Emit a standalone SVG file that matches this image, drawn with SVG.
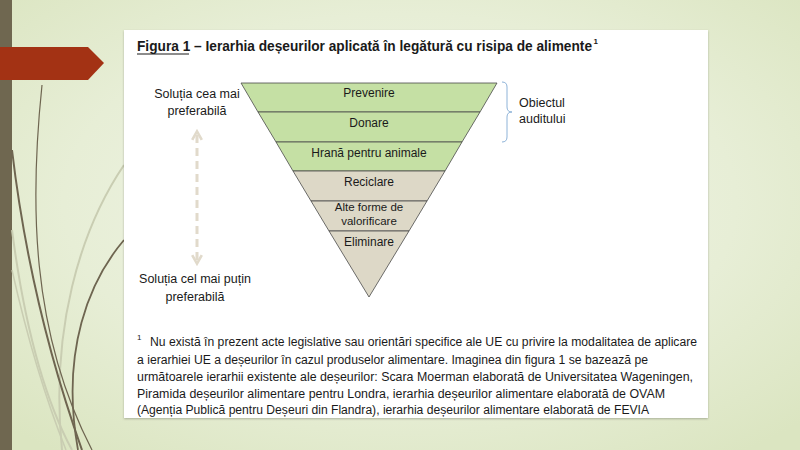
<svg xmlns="http://www.w3.org/2000/svg" width="800" height="450" viewBox="0 0 800 450">
<defs>
<radialGradient id="bg" cx="0.5" cy="0.45" r="0.7">
<stop offset="0" stop-color="#f2f5ea"/>
<stop offset="0.6" stop-color="#e7eed6"/>
<stop offset="1" stop-color="#dbe5c1"/>
</radialGradient>
<marker id="ah" viewBox="0 0 10 10" refX="5" refY="5" markerWidth="4" markerHeight="4" orient="auto-start-reverse" markerUnits="strokeWidth">
<path d="M1,1 L8,5 L1,9" fill="none" stroke="#e1dacb" stroke-width="2.2"/>
</marker>
<filter id="sh" x="-5%" y="-5%" width="110%" height="110%">
<feDropShadow dx="0" dy="1" stdDeviation="1" flood-color="#000" flood-opacity="0.25"/>
</filter>
</defs>
<style>
.t{font-family:"Liberation Sans",Arial,sans-serif;fill:#1a1a1a}
.lbl{font-size:12px;text-anchor:middle}
.side{font-size:12.5px;text-anchor:middle}
.fn{font-size:12.5px}
.band{stroke:#4a4a4a;stroke-width:0.8}
.g{fill:#c5e0a4}
.b{fill:#ddd8c7}
.curve{fill:none;stroke:#6e6550}
.lcurve{fill:none;stroke:#c9cdb2}
</style>
<rect width="800" height="450" fill="url(#bg)"/>
<g id="decoration">
<rect x="0" y="0" width="12" height="450" fill="#6f6750"/>
<path class="lcurve" stroke-width="2" d="M124,165 C80,230 50,330 62,450"/>
<path class="lcurve" stroke-width="2" d="M12,230 C25,330 45,400 72,450"/>
<path class="lcurve" stroke-width="1.5" d="M12,270 C30,350 50,410 66,450"/>
<path class="curve" stroke-width="2" d="M12,150 C25,260 50,360 82,450"/>
<path class="curve" stroke-width="1.2" d="M42,85 C30,200 30,330 92,450"/>
<path class="curve" stroke-width="1.8" d="M124,240 C90,280 60,350 78,450"/>
<polygon points="0,47 88,47 104,63 88,80 0,80" fill="#a33214"/>
</g>
<rect id="panel" x="124" y="30" width="584" height="388" fill="#ffffff" filter="url(#sh)"/>
<g id="title">
<text class="t" x="137" y="51" font-size="14" font-weight="bold"><tspan textLength="455" lengthAdjust="spacingAndGlyphs">Figura 1 – Ierarhia deșeurilor aplicată în legătură cu risipa de alimente</tspan><tspan font-size="8" dx="1.5" dy="-7">1</tspan></text>
<line x1="137" y1="54" x2="189" y2="54" stroke="#1a1a1a" stroke-width="1.2"/>
</g>
<g id="pyramid">
<g id="prevenire">
<polygon class="band g" points="241,83 497,83 480,112 258,112"/>
<text class="t lbl" x="369" y="97">Prevenire</text>
</g>
<g id="donare">
<polygon class="band g" points="258,112 480,112 462,142 276,142"/>
<text class="t lbl" x="369" y="127">Donare</text>
</g>
<g id="hrana">
<polygon class="band g" points="276,142 462,142 445,171 293,171"/>
<text class="t lbl" x="369" y="157">Hrană pentru animale</text>
</g>
<g id="reciclare">
<polygon class="band b" points="293,171 445,171 427,201 311,201"/>
<text class="t lbl" x="369" y="186">Reciclare</text>
</g>
<g id="alte">
<polygon class="band b" points="311,201 427,201 409,231 329,231"/>
<text class="t" x="369" y="211" font-size="11.5" text-anchor="middle">Alte forme de</text>
<text class="t" x="369" y="225" font-size="11.5" text-anchor="middle">valorificare</text>
</g>
<g id="eliminare">
<polygon class="band b" points="329,231 409,231 369,297"/>
<text class="t lbl" x="369" y="246">Eliminare</text>
</g>
</g>
<g id="labels">
<g id="top-label">
<text class="t side" x="197" y="98">Soluția cea mai</text>
<text class="t side" x="197" y="115">preferabilă</text>
</g>
<g id="bottom-label">
<text class="t side" x="195" y="283">Soluția cel mai puțin</text>
<text class="t side" x="195" y="301">preferabilă</text>
</g>
<g id="objective">
<text class="t" x="519" y="107" font-size="12.5">Obiectul</text>
<text class="t" x="519" y="123" font-size="12.5">auditului</text>
</g>
</g>
<g id="connectors">
<line x1="197" y1="135" x2="197" y2="260" stroke="#e1dacb" stroke-width="3" stroke-dasharray="8,5" marker-start="url(#ah)" marker-end="url(#ah)"/>
<path d="M502,82 Q507,82 507,87 L507,107 Q507,112 512,112 Q507,112 507,117 L507,137 Q507,142 502,142" fill="none" stroke="#8eb3d8" stroke-width="1"/>
</g>
<g id="footnote">
<text class="t fn" x="137" y="346"><tspan font-size="8" dy="-6">1</tspan><tspan x="150" dy="6" textLength="547" lengthAdjust="spacingAndGlyphs">Nu există în prezent acte legislative sau orientări specifice ale UE cu privire la modalitatea de aplicare</tspan></text>
<text class="t fn" x="137" y="364" textLength="511" lengthAdjust="spacingAndGlyphs">a ierarhiei UE a deșeurilor în cazul produselor alimentare. Imaginea din figura 1 se bazează pe</text>
<text class="t fn" x="137" y="381" textLength="556" lengthAdjust="spacingAndGlyphs">următoarele ierarhii existente ale deșeurilor: Scara Moerman elaborată de Universitatea Wageningen,</text>
<text class="t fn" x="137" y="398" textLength="528" lengthAdjust="spacingAndGlyphs">Piramida deșeurilor alimentare pentru Londra, ierarhia deșeurilor alimentare elaborată de OVAM</text>
<text class="t fn" x="137" y="414" textLength="512" lengthAdjust="spacingAndGlyphs">(Agenția Publică pentru Deșeuri din Flandra), ierarhia deșeurilor alimentare elaborată de FEVIA</text>
</g>
</svg>
